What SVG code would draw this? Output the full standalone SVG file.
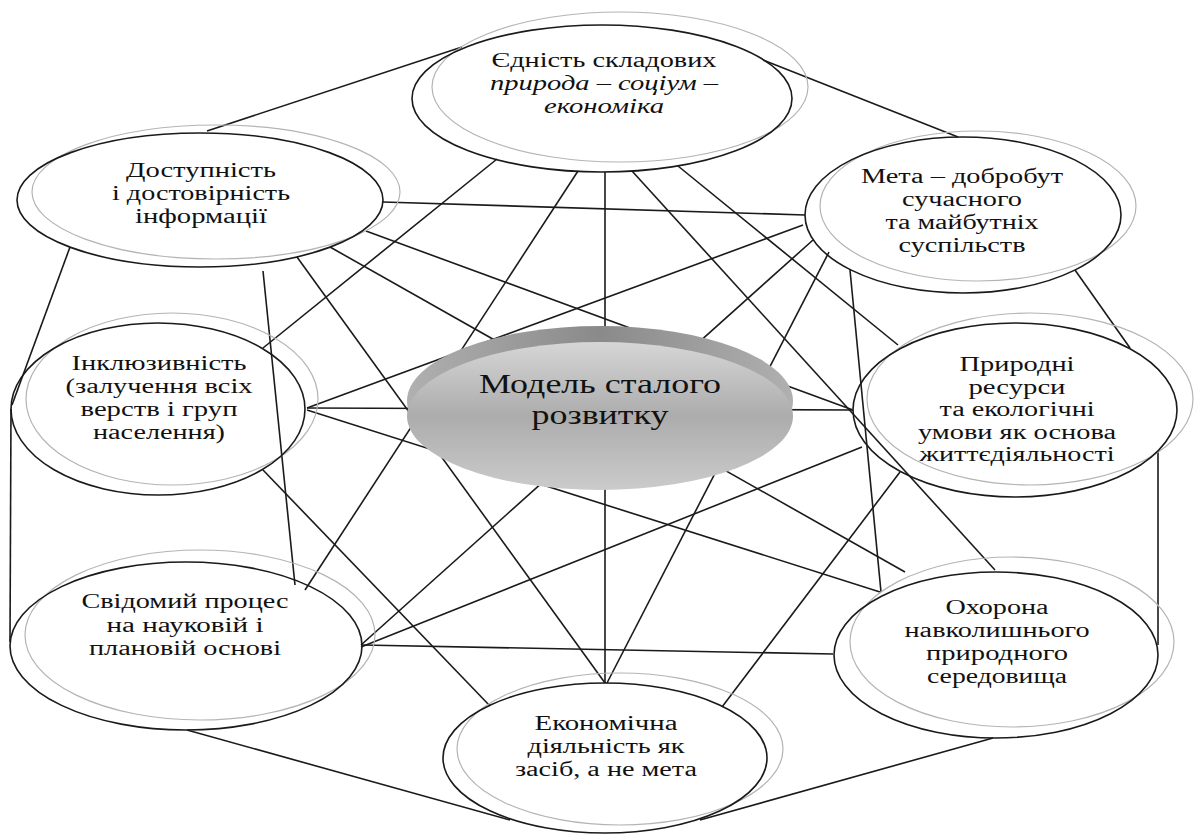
<svg xmlns="http://www.w3.org/2000/svg" width="1200" height="834" viewBox="0 0 1200 834">
<style>
.bk{fill:none;stroke:#1a1a1a;stroke-width:1.6}
.gr{fill:none;stroke:#b4b4b4;stroke-width:1.2}
.cn line{stroke:#1a1a1a;stroke-width:1.6}
text{font-family:"Liberation Serif","Times New Roman",serif;font-size:20px;fill:#111;text-anchor:middle}
.it{font-style:italic}
.ct{font-size:27px}
</style>
<defs>
<linearGradient id="fg" x1="0" y1="0" x2="0" y2="1">
<stop offset="0" stop-color="#d6d6d6"/>
<stop offset="0.5" stop-color="#acacac"/>
<stop offset="1" stop-color="#cbcbcb"/>
</linearGradient>
<linearGradient id="bg" x1="0" y1="0" x2="1" y2="0">
<stop offset="0" stop-color="#b0b0b0"/>
<stop offset="0.5" stop-color="#8a8a8a"/>
<stop offset="1" stop-color="#b0b0b0"/>
</linearGradient>
</defs>
<rect width="1200" height="834" fill="#fff"/>
<g id="connectors" class="cn">
<line x1="207" y1="131" x2="462" y2="47"/>
<line x1="763" y1="60" x2="958" y2="137"/>
<line x1="70" y1="247" x2="12" y2="405"/>
<line x1="11" y1="409" x2="10" y2="642"/>
<line x1="187" y1="730" x2="510" y2="820"/>
<line x1="700" y1="820" x2="993" y2="738"/>
<line x1="1158" y1="452" x2="1158" y2="645"/>
<line x1="1075" y1="270" x2="1130" y2="348"/>
<line x1="497" y1="159" x2="263" y2="348"/>
<line x1="578" y1="171" x2="305" y2="590"/>
<line x1="605" y1="172" x2="605" y2="683"/>
<line x1="632" y1="171" x2="995" y2="570"/>
<line x1="678" y1="166" x2="898" y2="345"/>
<line x1="383" y1="202" x2="805" y2="215"/>
<line x1="366" y1="231" x2="853" y2="410"/>
<line x1="330" y1="247" x2="905" y2="572"/>
<line x1="297" y1="257" x2="605" y2="683"/>
<line x1="263" y1="470" x2="490" y2="706"/>
<line x1="263" y1="271" x2="295" y2="585"/>
<line x1="803" y1="225" x2="307" y2="408"/>
<line x1="813" y1="240" x2="361" y2="645"/>
<line x1="862" y1="447" x2="361" y2="647"/>
<line x1="362" y1="645" x2="833" y2="654"/>
<line x1="829" y1="252" x2="607" y2="683"/>
<line x1="900" y1="472" x2="722" y2="707"/>
<line x1="850" y1="270" x2="881" y2="592"/>
<line x1="307" y1="408" x2="853" y2="410"/>
<line x1="307" y1="410" x2="880" y2="592"/>
</g>
<g id="node-center">
<ellipse cx="600" cy="401" rx="193" ry="75" fill="url(#bg)"/>
<ellipse cx="600" cy="416" rx="193" ry="74" fill="url(#fg)"/>
<text class="ct" x="600" y="393" textLength="242" lengthAdjust="spacingAndGlyphs">Модель сталого</text>
<text class="ct" x="600" y="424" textLength="137" lengthAdjust="spacingAndGlyphs">розвитку</text>
</g>
<g id="node-unity">
<ellipse class="gr" cx="620" cy="87" rx="188" ry="75"/>
<ellipse class="bk" cx="602" cy="98.5" rx="190" ry="73.5"/>
<text x="604" y="67" textLength="225" lengthAdjust="spacingAndGlyphs">Єдність складових</text>
<text class="it" x="604" y="90" textLength="228" lengthAdjust="spacingAndGlyphs">природа – соціум –</text>
<text class="it" x="604" y="113" textLength="120" lengthAdjust="spacingAndGlyphs">економіка</text>
</g>
<g id="node-access">
<ellipse class="gr" cx="216" cy="192" rx="184" ry="67"/>
<ellipse class="bk" cx="200" cy="200" rx="183" ry="67"/>
<text x="201" y="177" textLength="150" lengthAdjust="spacingAndGlyphs">Доступність</text>
<text x="201" y="200" textLength="178" lengthAdjust="spacingAndGlyphs">і достовірність</text>
<text x="201" y="223" textLength="132" lengthAdjust="spacingAndGlyphs">інформації</text>
</g>
<g id="node-goal">
<ellipse class="gr" cx="978" cy="206" rx="158" ry="75"/>
<ellipse class="bk" cx="963" cy="215" rx="158" ry="78"/>
<text x="962" y="183" textLength="202" lengthAdjust="spacingAndGlyphs">Мета – добробут</text>
<text x="962" y="206" textLength="120" lengthAdjust="spacingAndGlyphs">сучасного</text>
<text x="962" y="229" textLength="153" lengthAdjust="spacingAndGlyphs">та майбутніх</text>
<text x="962" y="252" textLength="127" lengthAdjust="spacingAndGlyphs">суспільств</text>
</g>
<g id="node-resources">
<ellipse class="gr" cx="1030" cy="399" rx="163" ry="86"/>
<ellipse class="bk" cx="1015" cy="410" rx="162" ry="87"/>
<text x="1017" y="371" textLength="115" lengthAdjust="spacingAndGlyphs">Природні</text>
<text x="1017" y="393.5" textLength="97" lengthAdjust="spacingAndGlyphs">ресурси</text>
<text x="1017" y="416" textLength="155" lengthAdjust="spacingAndGlyphs">та екологічні</text>
<text x="1017" y="438.5" textLength="198" lengthAdjust="spacingAndGlyphs">умови як основа</text>
<text x="1017" y="461" textLength="195" lengthAdjust="spacingAndGlyphs">життєдіяльності</text>
</g>
<g id="node-inclusion">
<ellipse class="gr" cx="172" cy="399" rx="146" ry="86"/>
<ellipse class="bk" cx="158" cy="409" rx="147" ry="86"/>
<text x="159" y="370" textLength="175" lengthAdjust="spacingAndGlyphs">Інклюзивність</text>
<text x="159" y="393" textLength="187" lengthAdjust="spacingAndGlyphs">(залучення всіх</text>
<text x="159" y="416" textLength="157" lengthAdjust="spacingAndGlyphs">верств і груп</text>
<text x="159" y="439" textLength="132" lengthAdjust="spacingAndGlyphs">населення)</text>
</g>
<g id="node-conscious">
<ellipse class="gr" cx="200" cy="635" rx="175" ry="85"/>
<ellipse class="bk" cx="186" cy="646" rx="176" ry="84"/>
<text x="185" y="608" textLength="207" lengthAdjust="spacingAndGlyphs">Свідомий процес</text>
<text x="185" y="631.5" textLength="157" lengthAdjust="spacingAndGlyphs">на науковій і</text>
<text x="185" y="655" textLength="192" lengthAdjust="spacingAndGlyphs">плановій основі</text>
</g>
<g id="node-economy">
<ellipse class="gr" cx="620" cy="749" rx="163" ry="76"/>
<ellipse class="bk" cx="605" cy="758" rx="162" ry="75"/>
<text x="606" y="730" textLength="143" lengthAdjust="spacingAndGlyphs">Економічна</text>
<text x="606" y="753" textLength="157" lengthAdjust="spacingAndGlyphs">діяльність як</text>
<text x="606" y="776" textLength="182" lengthAdjust="spacingAndGlyphs">засіб, а не мета</text>
</g>
<g id="node-protection">
<ellipse class="gr" cx="1012" cy="642" rx="162" ry="85"/>
<ellipse class="bk" cx="996" cy="655" rx="162" ry="83"/>
<text x="997" y="614" textLength="103" lengthAdjust="spacingAndGlyphs">Охорона</text>
<text x="997" y="637" textLength="185" lengthAdjust="spacingAndGlyphs">навколишнього</text>
<text x="997" y="660" textLength="142" lengthAdjust="spacingAndGlyphs">природного</text>
<text x="997" y="683" textLength="140" lengthAdjust="spacingAndGlyphs">середовища</text>
</g>
</svg>
